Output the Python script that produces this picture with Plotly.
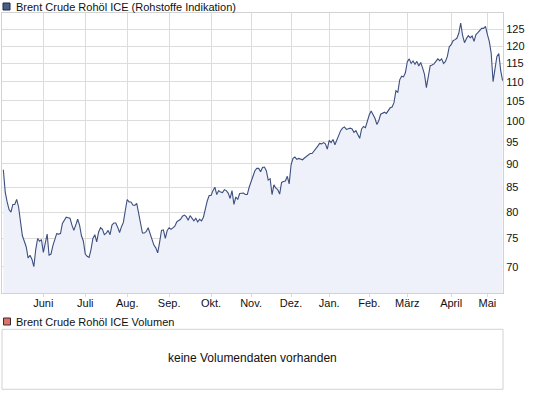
import math
import pandas as pd
import plotly.graph_objects as go

# ---------------- data ----------------
series_name = "Brent Crude Rohöl ICE (Rohstoffe Indikation)"
volume_name = "Brent Crude Rohöl ICE Volumen"
volume_msg = "keine Volumendaten vorhanden"

start_date = "2010-05-03"
end_date = "2011-05-12"
holidays = ["2010-11-25", "2010-12-24", "2010-12-27", "2010-12-31",
            "2011-04-22", "2011-04-25"]

p_2010_05 = [88.7, 84.0, 82.0, 80.5, 80.0, 81.5, 81.5, 82.5, 81.0, 78.0, 75.5,
             74.5, 73.5, 71.5, 72.0, 71.3, 70.0, 73.0, 75.0, 74.5, 74.8]
p_2010_06 = [72.5, 74.2, 75.8, 72.0, 72.2, 73.7, 74.8, 75.9, 75.8, 75.9, 77.8,
             78.4, 79.0, 78.9, 78.8, 77.5, 76.5, 77.5, 78.6, 77.5, 75.5, 74.5]
p_2010_07 = [72.2, 71.8, 71.6, 73.0, 75.0, 75.7, 74.4, 76.2, 77.0, 76.7, 75.7,
             76.0, 76.5, 75.7, 77.5, 77.9, 77.9, 77.1, 76.1, 77.2, 78.0, 80.3]
p_2010_08 = [82.5, 82.0, 82.0, 81.4, 81.3, 81.7, 79.8, 77.5, 76.0, 76.0, 76.3,
             77.0, 75.8, 74.6, 73.8, 73.3, 72.4, 74.3, 76.5, 76.6, 75.0, 76.5]
p_2010_09 = [77.0, 76.7, 77.0, 77.3, 78.1, 78.4, 78.6, 79.2, 79.4, 79.1, 78.4,
             79.3, 78.8, 78.3, 78.8, 78.1, 78.6, 78.3, 79.0, 80.7, 82.2, 83.3]
p_2010_10 = [83.3, 84.3, 85.0, 83.5, 84.3, 84.0, 83.9, 84.5, 84.3, 83.8, 82.7,
             84.3, 81.5, 83.0, 82.5, 83.7, 83.8, 83.8, 83.5, 83.5, 85.0]
p_2010_11 = [86.3, 87.5, 88.5, 89.0, 89.0, 88.3, 89.2, 89.3, 88.5, 86.5, 86.8,
             83.5, 85.5, 84.8, 84.5, 83.6, 86.0, 86.2, 86.3, 87.3, 85.7]
p_2010_12 = [89.8, 91.2, 91.5, 91.0, 91.2, 91.1, 90.9, 91.3, 91.6, 92.0, 92.3,
             92.3, 92.8, 93.5, 94.0, 94.6, 94.5, 94.8, 94.5, 93.3]
p_2011_01 = [95.3, 94.8, 95.5, 94.3, 95.5, 96.5, 97.6, 98.2, 98.5, 97.9, 98.0,
             98.2, 98.0, 97.2, 97.6, 96.6, 95.8, 98.0, 98.6, 98.3, 100.0]
p_2011_02 = [101.4, 102.4, 101.6, 100.6, 99.1, 100.0, 101.6, 101.8, 102.1, 101.8,
             102.4, 103.2, 103.4, 104.5, 107.6, 107.2, 110.5, 111.5, 111.3, 112.5]
p_2011_03 = [115.5, 116.3, 115.0, 115.7, 114.8, 115.6, 114.3, 115.3, 113.8, 112.0,
             108.4, 111.0, 114.4, 114.6, 114.9, 115.6, 116.3, 115.8, 116.3, 115.0,
             115.6, 117.0, 119.8]
p_2011_04 = [120.4, 121.6, 121.9, 122.3, 123.8, 126.9, 123.2, 121.0, 122.2, 123.1,
             122.5, 123.0, 121.4, 123.4, 124.0, 124.5, 125.3, 125.3, 125.9]
p_2011_05 = [123.5, 121.4, 118.0, 110.0, 113.5, 117.0, 117.8, 113.0, 110.3]

month_labels = ["Juni", "Juli", "Aug.", "Sep.", "Okt.", "Nov.", "Dez.",
                "Jan.", "Feb.", "März", "April", "Mai"]
y_ticks = [70, 75, 80, 85, 90, 95, 100, 105, 110, 115, 120, 125]
y_min, y_max = 65.6, 130.1

# ---------------- build ----------------
prices = (p_2010_05 + p_2010_06 + p_2010_07 + p_2010_08 + p_2010_09 + p_2010_10
          + p_2010_11 + p_2010_12 + p_2011_01 + p_2011_02 + p_2011_03
          + p_2011_04 + p_2011_05)
dates = [d for d in pd.bdate_range(start_date, end_date)
         if d.strftime("%Y-%m-%d") not in holidays]
n = min(len(dates), len(prices))
dates, prices = dates[:n], prices[:n]
idx = list(range(n))

# first trading day of each month (after the first month)
month_starts = [i for i in range(1, n) if dates[i].month != dates[i - 1].month]
tick_vals = month_starts[:len(month_labels)]

LINE = "#3d4f7e"
FILL = "#eef1fa"
GRID = "#dcdcdc"
FRAME = "#d2d2d2"
FONT = dict(family="Liberation Sans, Arial, sans-serif", size=11, color="#111")

fig = go.Figure()
fig.add_trace(go.Scatter(
    x=idx, y=prices, mode="lines",
    line=dict(color=LINE, width=1.1),
    fill="tozeroy", fillcolor=FILL,
    customdata=[d.strftime("%d.%m.%Y") for d in dates],
    hovertemplate="%{customdata}: %{y:.2f}<extra></extra>",
    showlegend=False,
))

W, H = 545, 398
ml, mr, mt, mb = 2, 42, 13, 9
pw, ph = W - ml - mr, H - mt - mb


def px(xp):
    return (xp - ml) / pw


def py(yp):
    return (H - mb - yp) / ph


main_bottom = py(293.3)

fig.update_layout(
    width=W, height=H,
    margin=dict(l=ml, r=mr, t=mt, b=mb),
    paper_bgcolor="white", plot_bgcolor="white",
    font=FONT,
    xaxis=dict(
        range=[-0.7, n - 1 + 0.2],
        tickmode="array", tickvals=tick_vals, ticktext=month_labels,
        showgrid=True, gridcolor=GRID, gridwidth=1,
        ticks="outside", ticklen=3, tickcolor=GRID,
        ticklabelstandoff=-4,
        showline=True, linecolor=FRAME, linewidth=1, mirror=True,
        zeroline=False, fixedrange=True, automargin=False,
        anchor="y",
    ),
    yaxis=dict(
        type="log",
        range=[math.log10(y_min), math.log10(y_max)],
        domain=[main_bottom, 1],
        side="right",
        tickmode="array", tickvals=y_ticks, ticktext=[str(v) for v in y_ticks],
        showgrid=True, gridcolor=GRID, gridwidth=1,
        ticks="", showline=True, linecolor=FRAME, linewidth=1, mirror=True,
        zeroline=False, fixedrange=True, automargin=False,
    ),
    hovermode="closest",
)

shapes = [
    # legend square main series
    dict(type="rect", xref="paper", yref="paper",
         x0=px(3), x1=px(10), y0=py(10), y1=py(3),
         fillcolor="#4a5d8c", line=dict(color="#1e2840", width=1)),
    # legend square volume
    dict(type="rect", xref="paper", yref="paper",
         x0=px(3.5), x1=px(10.5), y0=py(325), y1=py(318),
         fillcolor="#e0706b", line=dict(color="#3a2a2a", width=1)),
    # volume panel frame
    dict(type="rect", xref="paper", yref="paper",
         x0=0, x1=1, y0=py(389.3), y1=py(329.3),
         fillcolor="rgba(0,0,0,0)", line=dict(color=FRAME, width=1)),
]
annotations = [
    dict(text=series_name, xref="paper", yref="paper", x=px(13.5), y=py(6.5),
         xanchor="left", yanchor="middle", showarrow=False, font=FONT),
    dict(text=volume_name, xref="paper", yref="paper", x=px(14), y=py(321.5),
         xanchor="left", yanchor="middle", showarrow=False, font=FONT),
    dict(text=volume_msg, xref="paper", yref="paper", x=0.5, y=py(358),
         xanchor="center", yanchor="middle", showarrow=False,
         font=dict(family=FONT["family"], size=12, color="#111")),
]
fig.update_layout(shapes=shapes, annotations=annotations)

fig.write_html(
    "out.html",
    config={"displayModeBar": False},
    post_script="document.body.style.margin='0';document.body.style.padding='0';",
)
